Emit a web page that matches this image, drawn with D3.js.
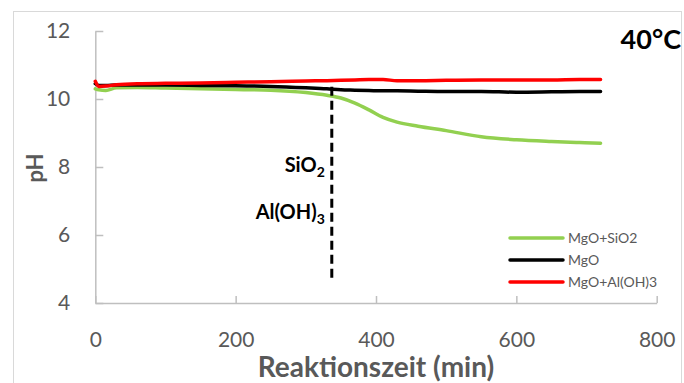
<!DOCTYPE html>
<html>
<head>
<meta charset="utf-8">
<script src="https://cdn.jsdelivr.net/npm/d3@7"></script>
<style>
  body { margin: 0; background: #fff; }
  svg { display: block; font-family: Lato, "Open Sans", sans-serif; }
</style>
</head>
<body>
<div id="chart"></div>
<script>
// reaction time (min)
const times = [0, 5, 15, 30, 60, 100, 150, 200, 250, 300, 330, 350, 370, 390, 410, 430, 460, 500, 550, 600, 650, 690, 720];
// pH values per series
const mgoSiO2 = [10.30, 10.27, 10.25, 10.33, 10.34, 10.32, 10.30, 10.28, 10.26, 10.19, 10.11, 10.03, 9.88, 9.68, 9.46, 9.32, 9.20, 9.07, 8.89, 8.80, 8.75, 8.72, 8.70];
const mgo = [10.45, 10.40, 10.40, 10.41, 10.41, 10.41, 10.40, 10.39, 10.37, 10.33, 10.30, 10.27, 10.26, 10.25, 10.24, 10.24, 10.23, 10.22, 10.22, 10.20, 10.21, 10.22, 10.22];
const mgoAlOH3 = [10.52, 10.37, 10.38, 10.42, 10.45, 10.46, 10.47, 10.49, 10.51, 10.53, 10.54, 10.55, 10.56, 10.57, 10.57, 10.54, 10.54, 10.55, 10.56, 10.56, 10.56, 10.57, 10.57];
const seriesNames = ['MgO+SiO2', 'MgO', 'MgO+Al(OH)3'];
const seriesColors = ['#92d050', '#000000', '#ff0000'];
const xTicks = [0, 200, 400, 600, 800];
const yTicks = [4, 6, 8, 10, 12];
// time where SiO2 / Al(OH)3 was added, and the pH span of the marker line
const additionTime = 337;
const markerSpan = [10.36, 4.7];

const width = 684, height = 383;
const plot = { left: 95.3, right: 656.7, top: 31, bottom: 303 };

const svg = d3.select('#chart').append('svg')
  .attr('width', width)
  .attr('height', height);

// chart frame
svg.append('rect')
  .attr('x', 13.5).attr('y', 11.5)
  .attr('width', 668).attr('height', 380)
  .attr('fill', 'none')
  .attr('stroke', '#d9d9d9');

const x = d3.scaleLinear().domain([0, 800]).range([plot.left, plot.right]);
const y = d3.scaleLinear().domain([4, 12]).range([plot.bottom, plot.top]);

// axes
const xAxis = svg.append('g')
  .attr('transform', 'translate(0,' + plot.bottom + ')')
  .call(d3.axisBottom(x).tickValues(xTicks).tickSizeInner(-7).tickSizeOuter(0).tickPadding(29));
const yAxis = svg.append('g')
  .attr('transform', 'translate(' + plot.left + ',0)')
  .call(d3.axisLeft(y).tickValues(yTicks).tickSizeInner(-8).tickSizeOuter(0).tickPadding(25));

[xAxis, yAxis].forEach(g => {
  g.select('.domain').attr('stroke', '#bfbfbf').attr('stroke-width', 1.5);
  g.selectAll('.tick line').attr('stroke', '#bfbfbf').attr('stroke-width', 1.5);
  g.selectAll('.tick text')
    .attr('fill', '#595959')
    .style('font-size', '21px')
    .style('font-family', 'Lato, sans-serif');
});

// axis titles
svg.append('text')
  .attr('x', 376).attr('y', 377)
  .attr('text-anchor', 'middle')
  .attr('fill', '#595959')
  .style('font-size', '28px')
  .style('font-weight', 'bold')
  .text('Reaktionszeit (min)');

svg.append('text')
  .attr('transform', 'translate(43,168) rotate(-90)')
  .attr('text-anchor', 'middle')
  .attr('fill', '#595959')
  .style('font-size', '22px')
  .style('font-weight', 'bold')
  .text('pH');

// temperature label
svg.append('text')
  .attr('x', 681).attr('y', 49)
  .attr('text-anchor', 'end')
  .attr('fill', '#000')
  .style('font-size', '27px')
  .style('font-weight', 'bold')
  .text('40°C');

// lines
const line = d3.line()
  .x(d => x(d[0]))
  .y(d => y(d[1]))
  .curve(d3.curveMonotoneX);

const allSeries = [mgoSiO2, mgo, mgoAlOH3];
allSeries.forEach((vals, i) => {
  svg.append('path')
    .datum(times.map((t, j) => [t, vals[j]]))
    .attr('fill', 'none')
    .attr('stroke', seriesColors[i])
    .attr('stroke-width', 3.5)
    .attr('stroke-linecap', 'round')
    .attr('d', line);
});

// addition marker (dashed)
svg.append('line')
  .attr('x1', x(additionTime)).attr('x2', x(additionTime))
  .attr('y1', y(markerSpan[0])).attr('y2', y(markerSpan[1]))
  .attr('stroke', '#000')
  .attr('stroke-width', 3)
  .attr('stroke-dasharray', '9,5');

const addLabel = (yPos, main, sub) => {
  const t = svg.append('text')
    .attr('x', x(additionTime) - 7).attr('y', yPos)
    .attr('text-anchor', 'end')
    .attr('fill', '#000')
    .style('font-size', '20px')
    .style('font-weight', 'bold');
  t.append('tspan').text(main);
  t.append('tspan').attr('dy', 5).style('font-size', '14px').text(sub);
};
addLabel(172, 'SiO', '2');
addLabel(219, 'Al(OH)', '3');

// legend
const legend = svg.append('g').attr('transform', 'translate(510,238)');
seriesNames.forEach((name, i) => {
  const row = legend.append('g').attr('transform', 'translate(0,' + (i * 22) + ')');
  row.append('line')
    .attr('x1', 0).attr('x2', 53)
    .attr('stroke', seriesColors[i])
    .attr('stroke-width', 3.5)
    .attr('stroke-linecap', 'round');
  row.append('text')
    .attr('x', 58).attr('dy', '0.35em')
    .attr('fill', '#595959')
    .style('font-size', '14px')
    .text(name);
});
</script>
</body>
</html>
